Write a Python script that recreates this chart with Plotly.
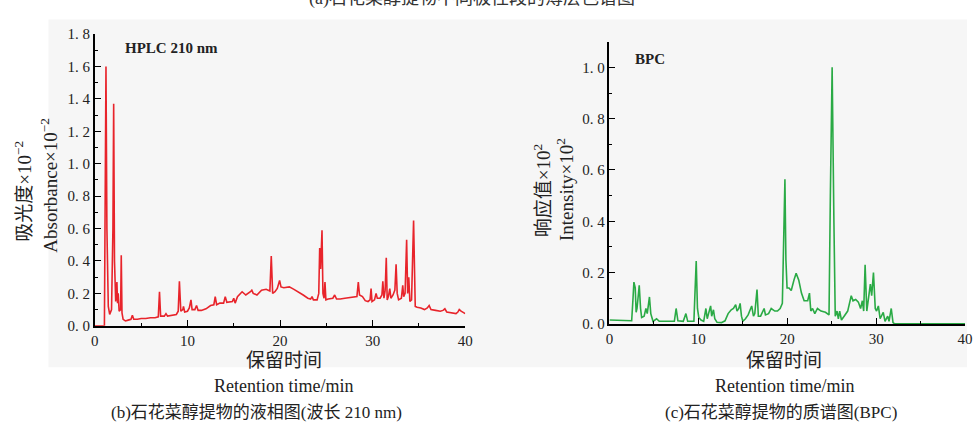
import plotly.graph_objects as go

# ---------------- data ----------------
hplc_time = [0, 1.0, 1.03, 1.2, 1.3, 1.45, 1.6, 1.8, 1.95, 2.03, 2.12, 2.25, 2.38, 2.45, 2.52, 2.62,
             2.78, 2.85, 2.93, 3.05, 3.3, 3.6, 3.9, 4.05, 4.2, 4.6, 5.0, 5.5, 6.0, 6.5, 6.85, 6.98,
             7.1, 7.5, 7.68, 7.85, 8.3, 8.8, 9.0, 9.13, 9.28, 9.5, 9.57, 9.7, 10.0, 10.2, 10.38,
             10.5, 10.8, 10.98, 11.15, 11.5, 12.0, 12.5, 12.85, 13.0, 13.15, 13.5, 13.9, 14.08,
             14.25, 14.6, 14.85, 15.0, 15.15, 15.4, 15.75, 15.9, 16.3, 16.6, 16.8, 16.95, 17.1,
             17.5, 18.0, 18.5, 18.9, 19.05, 19.2, 19.45, 19.7, 19.95, 20.1, 20.4, 21.0, 21.5, 22.0,
             22.5, 23.0, 23.3, 23.45, 23.6, 24.0, 24.18, 24.28, 24.38, 24.53, 24.63, 24.75, 24.85,
             24.95, 25.2, 25.7, 25.9, 26.1, 26.5, 27.0, 27.5, 28.0, 28.3, 28.45, 28.58, 28.9, 29.2,
             29.5, 29.72, 29.83, 29.93, 30.2, 30.37, 30.5, 30.8, 31.0, 31.1, 31.22, 31.35, 31.47,
             31.57, 31.7, 31.85, 31.97, 32.2, 32.4, 32.53, 32.65, 32.8, 33.1, 33.25, 33.35, 33.5,
             33.67, 33.78, 33.9, 34.02, 34.2, 34.3, 34.42, 34.52, 34.6, 34.8, 35.2, 35.6, 35.9,
             36.1, 36.3, 36.8, 37.3, 37.6, 37.8, 38.0, 38.5, 39.0, 39.2, 39.35, 39.55, 39.8, 40.0]
hplc_abs = [0, 0, 0, 1.6, 0.6, 0.12, 0.07, 0.1, 0.6, 1.37, 0.4, 0.15, 0.27, 0.14, 0.2, 0.09,
            0.1, 0.435, 0.08, 0.04, 0.03, 0.035, 0.04, 0.065, 0.04, 0.04, 0.045, 0.045, 0.05, 0.05,
            0.055, 0.21, 0.06, 0.06, 0.075, 0.06, 0.065, 0.07, 0.09, 0.275, 0.09, 0.1, 0.12, 0.085,
            0.09, 0.11, 0.16, 0.1, 0.1, 0.125, 0.095, 0.095, 0.105, 0.125, 0.13, 0.18, 0.13, 0.14,
            0.14, 0.18, 0.145, 0.15, 0.15, 0.17, 0.14, 0.18, 0.2, 0.21, 0.19, 0.2, 0.21, 0.22, 0.2,
            0.19, 0.22, 0.225, 0.215, 0.43, 0.2, 0.21, 0.23, 0.28, 0.24, 0.235, 0.24, 0.225, 0.21,
            0.19, 0.17, 0.165, 0.18, 0.16, 0.16, 0.2, 0.48, 0.35, 0.59, 0.2, 0.17, 0.27, 0.16,
            0.165, 0.17, 0.19, 0.165, 0.165, 0.17, 0.175, 0.18, 0.18, 0.27, 0.19, 0.18, 0.155,
            0.15, 0.16, 0.23, 0.15, 0.16, 0.2, 0.17, 0.17, 0.19, 0.275, 0.17, 0.22, 0.42,
            0.16, 0.18, 0.23, 0.17, 0.19, 0.22, 0.38, 0.2, 0.16, 0.17, 0.25, 0.18, 0.2,
            0.53, 0.2, 0.3, 0.15, 0.16, 0.4, 0.65, 0.35, 0.12, 0.115, 0.11, 0.1, 0.11,
            0.125, 0.1, 0.095, 0.09, 0.095, 0.105, 0.085, 0.08, 0.075, 0.085, 0.1, 0.09, 0.08, 0.075]

bpc_time = [0, 1.0, 2.0, 2.5, 2.65, 2.75, 2.9, 3.0, 3.1, 3.35, 3.5, 3.62, 3.9, 4.1, 4.25, 4.5,
            4.65, 4.9, 5.3, 5.6, 6.5, 7.3, 7.5, 7.7, 8.3, 8.6, 8.8, 9.5, 9.62, 9.76, 9.9, 10.05,
            10.3, 10.6, 10.85, 11.0, 11.15, 11.38, 11.5, 11.7, 11.85, 12.1, 12.6, 13.0, 13.35,
            13.7, 13.95, 14.2, 14.35, 14.55, 14.7, 14.85, 15.0, 15.3, 15.6, 16.0, 16.2, 16.35,
            16.6, 16.75, 17.0, 17.4, 17.55, 17.9, 18.2, 18.6, 18.9, 19.2, 19.45, 19.6, 19.74,
            19.85, 19.98, 20.2, 20.45, 20.75, 21.0, 21.3, 21.6, 21.9, 22.3, 22.5, 22.65, 22.85,
            23.1, 23.4, 23.8, 24.3, 24.7, 24.85, 25.05, 25.25, 25.4, 25.6, 25.75, 25.9, 26.1,
            26.4, 26.8, 27.2, 27.4, 27.7, 28.0, 28.25, 28.45, 28.6, 28.76, 28.95, 29.15, 29.35,
            29.5, 29.7, 29.9, 30.05, 30.25, 30.45, 30.8, 31.0, 31.3, 31.45, 31.7, 31.9, 32.1, 40]
bpc_int = [0.015, 0.014, 0.012, 0.012, 0.1, 0.163, 0.14, 0.045, 0.06, 0.15, 0.06, 0.025, 0.03,
           0.06, 0.04, 0.105, 0.04, 0.01, 0.02, 0.01, 0.01, 0.01, 0.06, 0.012, 0.01, 0.04, 0.01,
           0.01, 0.12, 0.245, 0.06, 0.025, 0.015, 0.01, 0.06, 0.02, 0.04, 0.07, 0.03, 0.055, 0.02,
           0.006, 0.005, 0.012, 0.04, 0.055, 0.06, 0.075, 0.05, 0.06, 0.08, 0.03, 0.01, 0.02,
           0.035, 0.07, 0.03, 0.04, 0.134, 0.03, 0.03, 0.06, 0.035, 0.04, 0.06, 0.05, 0.05, 0.06,
           0.08, 0.3, 0.564, 0.25, 0.14, 0.14, 0.13, 0.17, 0.197, 0.17, 0.12, 0.09, 0.09, 0.12,
           0.05, 0.06, 0.04, 0.06, 0.05, 0.045, 0.035, 0.5, 1.0, 0.4, 0.03, 0.05, 0.02, 0.05,
           0.015, 0.03, 0.05, 0.11, 0.09, 0.095, 0.085, 0.06, 0.09, 0.05, 0.23, 0.05, 0.1, 0.155,
           0.11, 0.2, 0.06, 0.05, 0.07, 0.02, 0.045, 0.01, 0.03, 0.01, 0.06, 0.005, 0.0, 0.0]

left_y_ticks = [0, 0.2, 0.4, 0.6, 0.8, 1.0, 1.2, 1.4, 1.6, 1.8]
left_y_labels = ["0. 0", "0. 2", "0. 4", "0. 6", "0. 8", "1. 0", "1. 2", "1. 4", "1. 6", "1. 8"]
right_y_ticks = [0, 0.2, 0.4, 0.6, 0.8, 1.0]
right_y_labels = ["0. 0", "0. 2", "0. 4", "0. 6", "0. 8", "1. 0"]
x_ticks = [0, 10, 20, 30, 40]

W, H = 975, 433
SERIF = "Liberation Serif, Noto Sans CJK SC, serif"
TXT = "#222222"

fig = go.Figure()
fig.add_trace(go.Scatter(x=hplc_time, y=hplc_abs, mode="lines",
                         line=dict(color="#e8242b", width=1.6), xaxis="x", yaxis="y",
                         showlegend=False, hoverinfo="skip"))
fig.add_trace(go.Scatter(x=bpc_time, y=bpc_int, mode="lines",
                         line=dict(color="#2aaa45", width=1.6), xaxis="x2", yaxis="y2",
                         showlegend=False, hoverinfo="skip"))

def px(x):
    return x / W

def py(y):
    return 1 - y / H

axis_common = dict(showline=True, linecolor="black", linewidth=1.5, showgrid=False,
                   zeroline=False, ticks="inside", tickcolor="black", tickwidth=1.2, ticklen=6,
                   tickfont=dict(family=SERIF, size=15, color=TXT))

fig.update_layout(
    width=W, height=H,
    margin=dict(l=0, r=0, t=0, b=0),
    paper_bgcolor="white", plot_bgcolor="rgba(0,0,0,0)",
    xaxis=dict(domain=[px(92), px(467)], range=[0, 40], anchor="y", tickvals=x_ticks,
               minor=dict(ticks="inside", dtick=5, ticklen=3, tickcolor="black"),
               **axis_common),
    yaxis=dict(domain=[py(330), py(27)], range=[0, 1.8], anchor="x", tickvals=left_y_ticks,
               ticktext=left_y_labels,
               minor=dict(ticks="inside", dtick=0.1, ticklen=3, tickcolor="black"),
               **axis_common),
    xaxis2=dict(domain=[px(613), px(973)], range=[0, 40], anchor="y2", tickvals=x_ticks,
                minor=dict(ticks="inside", dtick=5, ticklen=3, tickcolor="black"),
                **axis_common),
    yaxis2=dict(domain=[py(328), py(35)], range=[0, 1.1], anchor="x2", tickvals=right_y_ticks,
                ticktext=right_y_labels,
                minor=dict(ticks="inside", dtick=0.1, ticklen=3, tickcolor="black"),
                **axis_common),
    shapes=[dict(type="rect", xref="paper", yref="paper", x0=px(45), x1=1.0,
                 y0=py(373), y1=py(12), fillcolor="#f6f6f6", line=dict(width=0),
                 layer="below")],
)

def ann(text, x, y, size, angle=0, bold=False, color=TXT):
    if bold:
        text = "<b>" + text + "</b>"
    fig.add_annotation(text=text, x=px(x), y=py(y), xref="paper", yref="paper",
                       showarrow=False, textangle=angle, xanchor="center", yanchor="middle",
                       font=dict(family=SERIF, size=size, color=color))

ann("(a)石花菜醇提物不同极性段的薄层色谱图", 474, -10, 18, color="#333333")
ann("HPLC 210 nm", 170, 42, 15, bold=True)
ann("BPC", 654, 53, 15, bold=True)
ann("吸光度×10<sup>−2</sup>", 19, 190, 19, angle=-90)
ann("Absorbance×10<sup>−2</sup>", 46, 184, 19, angle=-90)
ann("响应值×10<sup>2</sup>", 545, 190, 19, angle=-90)
ann("Intensity×10<sup>2</sup>", 568, 189, 19, angle=-90)
ann("保留时间", 283, 366, 19)
ann("Retention time/min", 283, 392, 18)
ann("(b)石花菜醇提物的液相图(波长 210 nm)", 256, 420, 17)
ann("保留时间", 790, 366, 19)
ann("Retention time/min", 790, 392, 18)
ann("(c)石花菜醇提物的质谱图(BPC)", 787, 420, 17)

fig.write_html("out.html")
